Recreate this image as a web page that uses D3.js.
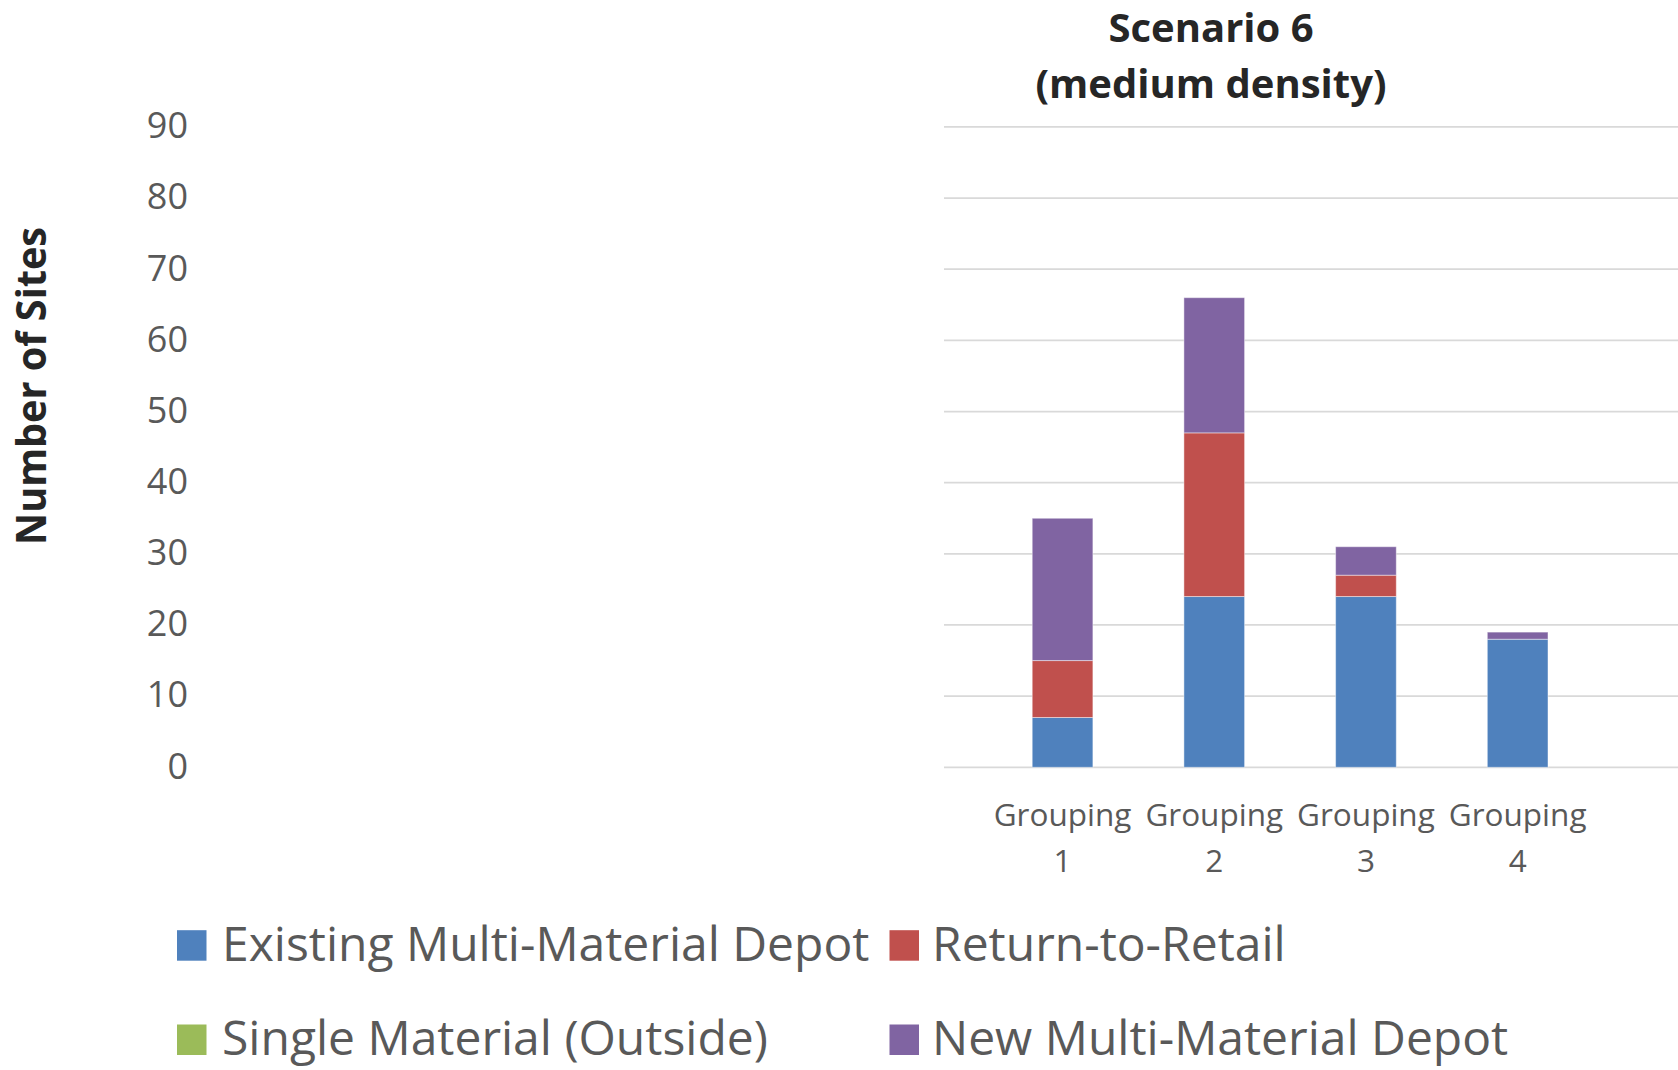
<!DOCTYPE html>
<html>
<head>
<meta charset="utf-8">
<script src="https://cdn.jsdelivr.net/npm/d3@7"></script>
<style>
  html, body { margin: 0; padding: 0; background: #ffffff; overflow: hidden; }
  svg { display: block; }
</style>
</head>
<body>
<svg id="chart" width="1678" height="1070"></svg>
<script>
// Groupings along the category axis (two-line labels)
const categories = ["Grouping 1", "Grouping 2", "Grouping 3", "Grouping 4"];

// Number of sites by type, per grouping
const existingDepot = [7, 24, 24, 18];
const returnToRetail = [8, 23, 3, 0];
const singleOutside = [0, 0, 0, 0];
const newDepot = [20, 19, 4, 1];

const seriesNames = [
  "Existing Multi-Material Depot",
  "Return-to-Retail",
  "Single Material (Outside)",
  "New Multi-Material Depot"
];
const seriesColors = ["#4F81BD", "#C0504D", "#9BBB59", "#8064A2"];

const yTicks = [0, 10, 20, 30, 40, 50, 60, 70, 80, 90];

const titleLines = ["Scenario 6", "(medium density)"];
const yTitle = "Number of Sites";

// Build rows for the stack layout
const keys = ["existing", "retail", "single", "newDepot"];
const rows = categories.map((c, i) => ({
  cat: c,
  existing: existingDepot[i],
  retail: returnToRetail[i],
  single: singleOutside[i],
  newDepot: newDepot[i]
}));
const stacked = d3.stack().keys(keys)(rows);

const svg = d3.select("#chart");
const tickFont = "'Open Sans', 'Segoe UI', sans-serif";
const textGrey = "#595959";

// Scales
const y = d3.scaleLinear().domain([0, 90]).range([767.3, 126.9]);
const x = d3.scaleBand().domain(categories)
  .range([986.7, 1593.5]).paddingInner(0.6).paddingOuter(0.3);

const gridLeft = 944, gridRight = 1678;

// Horizontal gridlines
svg.append("g").selectAll("line").data(yTicks).join("line")
  .attr("x1", gridLeft).attr("x2", gridRight)
  .attr("y1", d => y(d)).attr("y2", d => y(d))
  .attr("stroke", "#D9D9D9").attr("stroke-width", 1.75);

// Value axis labels, drawn through d3.axisLeft
const yAxis = svg.append("g")
  .attr("transform", "translate(188,0)")
  .call(d3.axisLeft(y).tickValues(yTicks).tickSize(0).tickPadding(0));
yAxis.select(".domain").remove();
yAxis.selectAll("text")
  .attr("font-family", tickFont).attr("font-size", 36)
  .attr("fill", textGrey).attr("dy", "0.3em");

// Stacked bars
svg.append("g").selectAll("g").data(stacked).join("g")
  .attr("fill", (d, i) => seriesColors[i])
  .selectAll("rect").data(d => d.filter(s => s[1] - s[0] > 0)).join("rect")
  .attr("x", d => x(d.data.cat))
  .attr("width", x.bandwidth())
  .attr("y", d => y(d[1]))
  .attr("height", d => y(d[0]) - y(d[1]))
  .attr("stroke", "rgba(255,255,255,0.45)")
  .attr("stroke-width", 1);

// Category labels on two lines
const xl = svg.append("g").selectAll("text").data(categories).join("text")
  .attr("text-anchor", "middle")
  .attr("font-family", tickFont).attr("font-size", 31.5)
  .attr("fill", textGrey);
xl.append("tspan")
  .attr("x", d => x(d) + x.bandwidth() / 2).attr("y", 826)
  .text(d => d.split(" ")[0]);
xl.append("tspan")
  .attr("x", d => x(d) + x.bandwidth() / 2).attr("y", 872)
  .text(d => d.split(" ")[1]);

// Chart title
const titleWidths = [205, 351];
const titleBaselines = [42, 98];
svg.append("g").selectAll("text").data(titleLines).join("text")
  .attr("x", 1211).attr("y", (d, i) => titleBaselines[i])
  .attr("text-anchor", "middle")
  .attr("font-family", tickFont).attr("font-weight", 700)
  .attr("font-size", 39).attr("fill", "#262626")
  .attr("textLength", (d, i) => titleWidths[i])
  .attr("lengthAdjust", "spacingAndGlyphs")
  .text(d => d);

// Value axis title
svg.append("text")
  .attr("transform", "translate(46,386) rotate(-90)")
  .attr("text-anchor", "middle")
  .attr("font-family", tickFont).attr("font-weight", 700)
  .attr("font-size", 42).attr("fill", "#262626")
  .attr("textLength", 318).attr("lengthAdjust", "spacingAndGlyphs")
  .text(yTitle);

// Legend: two rows, two columns
const legendPos = [
  { sx: 177, tx: 222, by: 960.7 },
  { sx: 889.5, tx: 932, by: 960.7 },
  { sx: 177, tx: 222, by: 1055 },
  { sx: 889.5, tx: 932, by: 1055 }
];
const legend = svg.append("g").selectAll("g").data(seriesNames).join("g");
legend.append("rect")
  .attr("x", (d, i) => legendPos[i].sx)
  .attr("y", (d, i) => legendPos[i].by - 30.5)
  .attr("width", 29.5).attr("height", 30.5)
  .attr("fill", (d, i) => seriesColors[i]);
legend.append("text")
  .attr("x", (d, i) => legendPos[i].tx)
  .attr("y", (d, i) => legendPos[i].by)
  .attr("font-family", tickFont).attr("font-size", 48)
  .attr("fill", textGrey)
  .text(d => d);
</script>
</body>
</html>
